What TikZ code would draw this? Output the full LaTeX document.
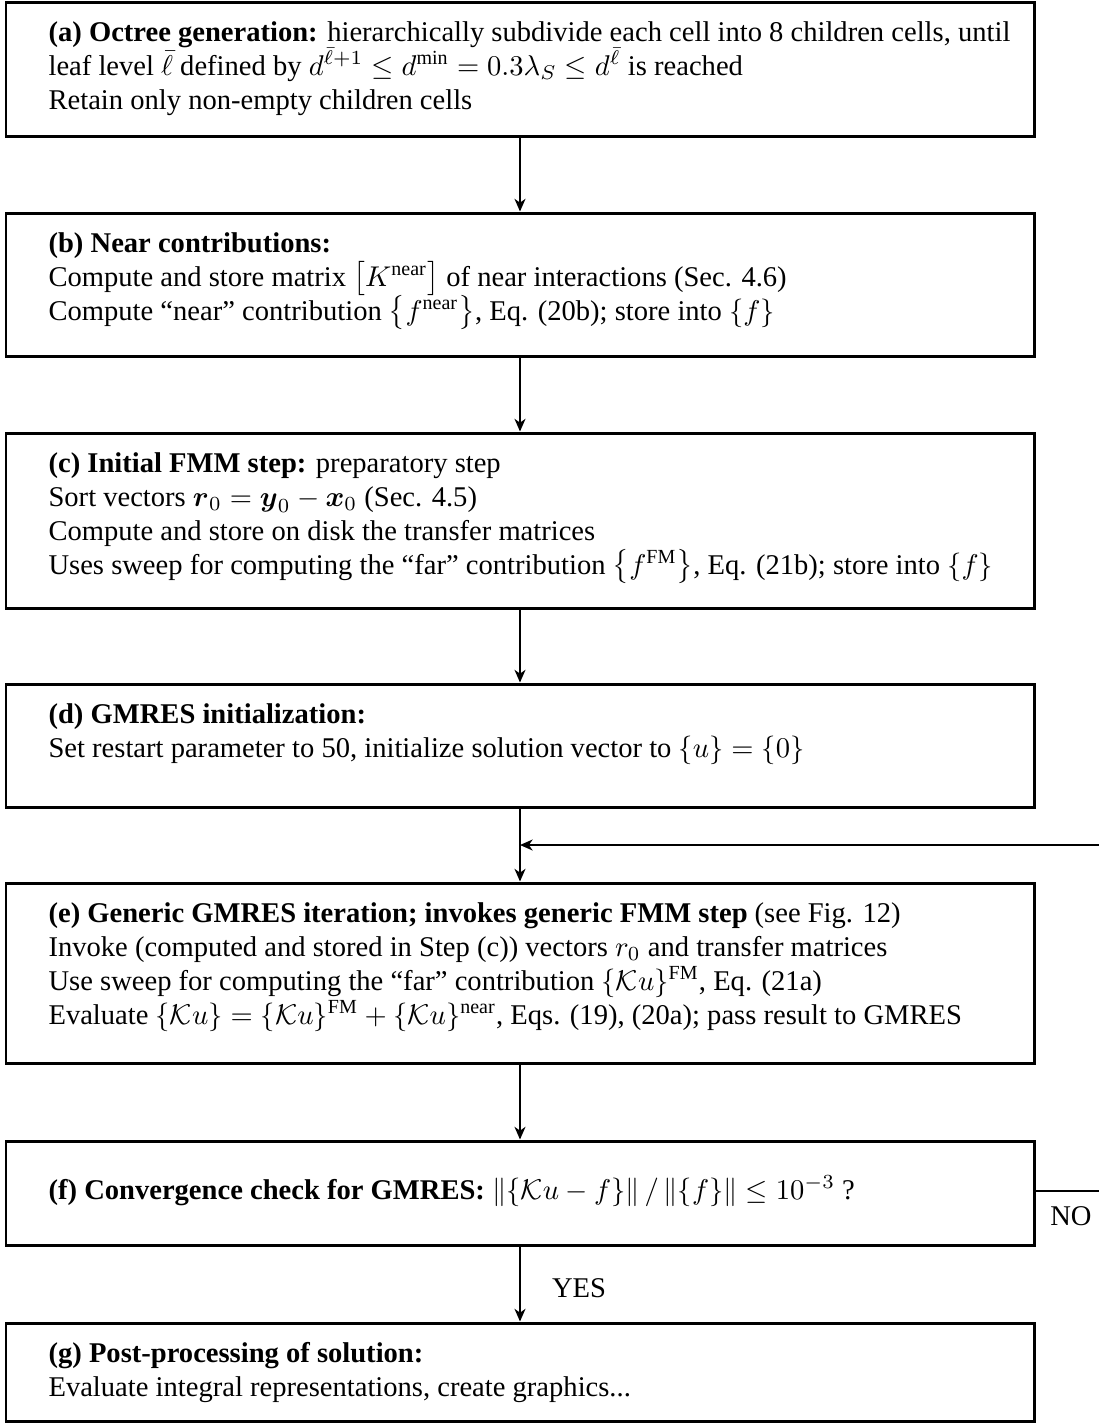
\documentclass[tikz,border=0pt]{standalone}
\usepackage{amsmath,amssymb}
\usepackage[no-math]{fontspec}
\setmainfont{Liberation Serif}
\usetikzlibrary{arrows.meta}
\begin{document}
\begin{tikzpicture}[x=0.35pt,y=-0.35pt,
  boxst/.style={draw, line width=1.05pt, minimum width={1028*0.35pt}, inner sep=0pt},
  txt/.style={anchor=base west, inner sep=0pt, font=\fontsize{10}{12}\selectfont},
  lbl/.style={anchor=base, inner sep=0pt, font=\fontsize{10}{12}\selectfont},
  tip/.style={-{Stealth[length=4.4pt,width=3.8pt,inset=1.3pt]}},
  conn/.style={line width=0.75pt, tip}]
\useasboundingbox (0,0) rectangle (1099,1425);
\clip (0,0) rectangle (1099,1425);

% boxes
\node[boxst, minimum height={134*0.35pt}] (a) at (520,69) {};
\node[boxst, minimum height={143*0.35pt}] (b) at (520,284.5) {};
\node[boxst, minimum height={175*0.35pt}] (c) at (520,520.5) {};
\node[boxst, minimum height={123*0.35pt}] (d) at (520,745.5) {};
\node[boxst, minimum height={180*0.35pt}] (e) at (520,973) {};
\node[boxst, minimum height={104*0.35pt}] (f) at (520,1193) {};
\node[boxst, minimum height={98*0.35pt}] (g) at (520,1372) {};

% texts (a)
\node[txt] (a1) at (48,41) {\textbf{(a) Octree generation:} hierarchically subdivide each cell into 8 children cells, until};
\node[txt] (a2) at (48,75) {leaf level $\bar\ell$ defined by $d^{\bar\ell+1}\le d^{\textnormal{min}}=0.3\lambda_S\le d^{\bar\ell}$ is reached};
\node[txt] (a3) at (48,109) {Retain only non-empty children cells};

% (b)
\node[txt] (b1) at (48,252) {\textbf{(b) Near contributions:}};
\node[txt] (b2) at (48,286) {Compute and store matrix $\bigl[K^{\textnormal{near}}\bigr]$ of near interactions (Sec. 4.6)};
\node[txt] (b3) at (48,320) {Compute ``near'' contribution $\bigl\{f^{\textnormal{near}}\bigr\}$, Eq. (20b); store into $\{f\}$};

% (c)
\node[txt] (c1) at (48,472) {\textbf{(c) Initial FMM step:} preparatory step};
\node[txt] (c2) at (48,506) {Sort vectors $\boldsymbol{r}_0=\boldsymbol{y}_0-\boldsymbol{x}_0$ (Sec. 4.5)};
\node[txt] (c3) at (48,540) {Compute and store on disk the transfer matrices};
\node[txt] (c4) at (48,574) {Uses sweep for computing the ``far'' contribution $\bigl\{f^{\textnormal{FM}}\bigr\}$, Eq. (21b); store into $\{f\}$};

% (d)
\node[txt] (d1) at (48,723) {\textbf{(d) GMRES initialization:}};
\node[txt] (d2) at (48,757) {Set restart parameter to 50, initialize solution vector to $\{u\}=\{0\}$};

% (e)
\node[txt] (e1) at (48,922) {\textbf{(e) Generic GMRES iteration; invokes generic FMM step} (see Fig. 12)};
\node[txt] (e2) at (48,956) {Invoke (computed and stored in Step (c)) vectors $r_0$ and transfer matrices};
\node[txt] (e3) at (48,990) {Use sweep for computing the ``far'' contribution $\{\mathcal{K}u\}^{\textnormal{FM}}$, Eq. (21a)};
\node[txt] (e4) at (48,1024) {Evaluate $\{\mathcal{K}u\}=\{\mathcal{K}u\}^{\textnormal{FM}}+\{\mathcal{K}u\}^{\textnormal{near}}$, Eqs. (19), (20a); pass result to GMRES};

% (f)
\node[txt] (f1) at (48,1199) {\textbf{(f) Convergence check for GMRES:} $\|\{\mathcal{K}u-f\}\|\,/\,\|\{f\}\|\le 10^{-3}$ ?};

% (g)
\node[txt] (g1) at (48,1362) {\textbf{(g) Post-processing of solution:}};
\node[txt] (g2) at (48,1396) {Evaluate integral representations, create graphics...};

% connectors
\draw[conn] (a.south) -- (b.north);
\draw[conn] (b.south) -- (c.north);
\draw[conn] (c.south) -- (d.north);
\draw[conn] (d.south) -- (e.north);
\draw[conn] (e.south) -- (f.north);
\draw[conn] (f.south) -- (g.north);

\coordinate (j) at (520,845);
\coordinate (fr) at (1120,1191);
\draw[conn] (f.east |- fr) -- (fr) |- (j);

\node[lbl] (yes) at (579,1297) {YES};
\node[lbl] (no) at (1071,1225) {NO};
\end{tikzpicture}
\end{document}
